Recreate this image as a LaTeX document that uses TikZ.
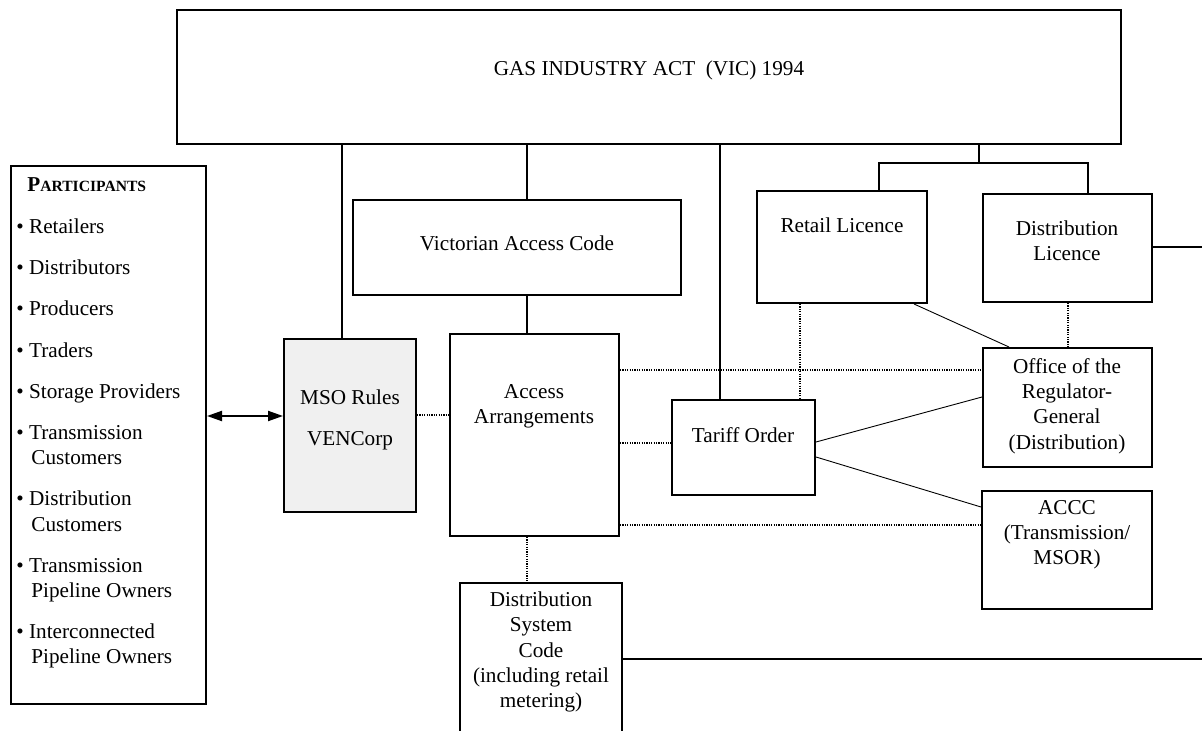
\documentclass[tikz,border=0pt]{standalone}
\usepackage{fontspec}
\setmainfont{Liberation Serif}
\usepackage{tikz}
\usetikzlibrary{arrows.meta}
\definecolor{msogray}{RGB}{240,240,240}

\tikzset{
  box/.style={draw, line width=1pt, inner sep=0pt},
  lbl/.style={inner sep=0pt, align=center},
  trunk/.style={line width=1pt},
  dots/.style={line width=0.6pt, dash pattern=on 0.6pt off 0.6pt},
  thin/.style={line width=0.45pt}
}

\begin{document}
\begin{tikzpicture}[x=0.5pt, y=-0.5pt,
  every node/.style={font=\fontsize{10.6}{12.6}\selectfont}]
\useasboundingbox (0,0) rectangle (1202,731);
\clip (0,0) rectangle (1202,731);

% boxes
\node[box, minimum width=472pt, minimum height=67pt] (act) at (649,77) {};
\node[box, minimum width=97.5pt, minimum height=269pt] (part) at (108.5,435) {};
\node[box, fill=msogray, minimum width=66pt, minimum height=86.5pt] (mso) at (350,425.5) {};
\node[box, minimum width=164pt, minimum height=47.5pt] (vac) at (517,247.5) {};
\node[box, minimum width=84.5pt, minimum height=101pt] (acc) at (534.5,435) {};
\node[box, minimum width=71.5pt, minimum height=47.5pt] (tar) at (743.5,447.5) {};
\node[box, minimum width=85pt, minimum height=56pt] (ret) at (842,247) {};
\node[box, minimum width=84.5pt, minimum height=54pt] (dlic) at (1067.5,248) {};
\node[box, minimum width=84.5pt, minimum height=59.5pt] (org) at (1067.5,407.5) {};
\node[box, minimum width=85pt, minimum height=59pt] (accc) at (1067,550) {};
\node[box, minimum width=81pt, minimum height=81pt] (dsc) at (541,664) {};

% texts
\node[lbl] (actT) at (649,70) {GAS INDUSTRY ACT \ (VIC) 1994};
\node[lbl] (vacT) at (517,243) {Victorian Access Code};
\node[lbl] (msoT) at (350,420) {MSO Rules\\[8pt]VENCorp};
\node[lbl] (accT) at (534,406) {Access\\Arrangements};
\node[lbl] (tarT) at (743,435) {Tariff Order};
\node[lbl] (retT) at (842,225) {Retail Licence};
\node[lbl] (dlicT) at (1067,241) {Distribution\\Licence};
\node[lbl] (orgT) at (1067,406) {Office of the\\Regulator-\\General\\(Distribution)};
\node[lbl] (acccT) at (1067,535) {ACCC\\(Transmission/\\MSOR)};
\node[lbl] (dscT) at (541,652) {Distribution\\System\\Code\\(including retail\\metering)};
\node[inner sep=0pt, align=left, anchor=north west] (partT) at (16,177) {%
  \hspace*{5.5pt}\textbf{P{\fontsize{7.8}{9}\selectfont ARTICIPANTS}}\\[8.5pt]
  • Retailers\\[8pt]
  • Distributors\\[8pt]
  • Producers\\[8pt]
  • Traders\\[8pt]
  • Storage Providers\\[8pt]
  • Transmission\\
  \hspace*{7.5pt}Customers\\[8pt]
  • Distribution\\
  \hspace*{7.5pt}Customers\\[8pt]
  • Transmission\\
  \hspace*{7.5pt}Pipeline Owners\\[8pt]
  • Interconnected\\
  \hspace*{7.5pt}Pipeline Owners};

% free ends at the right edge
\coordinate (edgeA) at (1202,247);
\coordinate (edgeB) at (1202,659);
\coordinate (fork) at (979,163);

% solid links from the act
\draw[trunk] (act.south -| 342,0) -- (mso.north -| 342,0);
\draw[trunk] (act.south -| 527,0) -- (vac.north -| 527,0);
\draw[trunk] (vac.south -| 527,0) -- (acc.north -| 527,0);
\draw[trunk] (act.south -| 720,0) -- (tar.north -| 720,0);
\draw[trunk] (act.south -| fork) -- (fork);
\draw[trunk] (ret.north -| 879,0) |- (fork) -| (dlic.north -| 1088,0);
\draw[trunk] (dlic.east |- edgeA) -- (edgeA);
\draw[trunk] (dsc.east |- edgeB) -- (edgeB);
\draw[trunk, {Triangle[length=7.5pt,width=5pt]}-{Triangle[length=7.5pt,width=5pt]}]
  (part.east |- 0,416) -- (mso.west |- 0,416);

% dotted links
\draw[dots] (mso.east |- 0,415) -- (acc.west |- 0,415);
\draw[dots] (acc.east |- 0,370) -- (org.west |- 0,370);
\draw[dots] (acc.east |- 0,443) -- (tar.west |- 0,443);
\draw[dots] (acc.east |- 0,525) -- (accc.west |- 0,525);
\draw[dots] (acc.south -| 527,0) -- (dsc.north -| 527,0);
\draw[dots] (ret.south -| 800,0) -- (tar.north -| 800,0);
\draw[dots] (dlic.south -| 1068,0) -- (org.north -| 1068,0);

% thin slanted links
\draw[thin] (ret.south -| 914,0) -- (org.north -| 1009,0);
\draw[thin] (tar.east |- 0,442) -- (org.west |- 0,397);
\draw[thin] (tar.east |- 0,457) -- (accc.west |- 0,507);
\end{tikzpicture}
\end{document}
